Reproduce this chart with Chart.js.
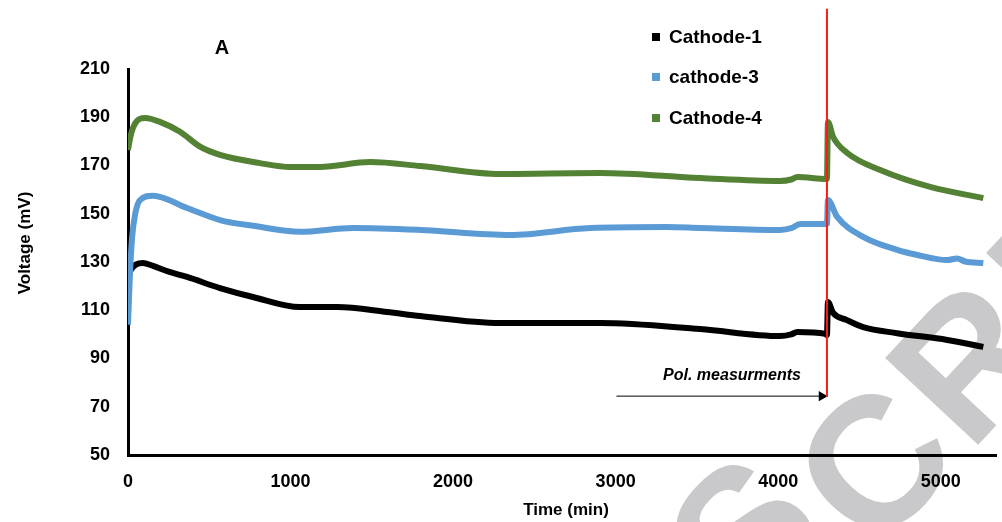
<!DOCTYPE html>
<html>
<head>
<meta charset="utf-8">
<script src="https://cdn.jsdelivr.net/npm/chart.js@4/dist/chart.umd.min.js"></script>
<style>
    body { margin: 0; background: #fff; }
    #wrap { width: 1002px; height: 522px; }
</style>
</head>
<body>
<div id="wrap"><canvas id="chart" width="1002" height="522"></canvas></div>
<script>
// values (time in min, voltage in mV)
const cathode1Time = [0, 20, 50, 92, 150, 250, 363, 566, 769, 1058, 1286, 1594, 1797, 2289, 2905, 3520, 4012, 4080, 4117, 4290, 4300, 4306, 4338, 4420, 4523, 4732, 5040, 5262]
const cathode1Volt = [124, 127, 129, 129.6, 128.5, 126, 123.8, 119.2, 115.5, 111.3, 111.3, 109.3, 107.6, 104.7, 104.7, 102.2, 99.3, 100, 101, 100.2, 99.7, 113.4, 108.9, 106, 103, 100.5, 97.7, 94.8]

const cathode3Time = [0, 5, 12, 25, 43, 74, 154, 363, 566, 769, 1058, 1385, 1797, 2351, 2843, 3317, 3520, 4012, 4080, 4135, 4300, 4306, 4363, 4523, 4732, 4850, 5040, 5100, 5150, 5262]
const cathode3Volt = [104, 113, 125, 140, 149.5, 155.7, 157.5, 152.4, 147.4, 145, 142.5, 144.1, 143.3, 141.2, 144.1, 144.5, 144.1, 143.3, 144, 145.8, 145.8, 155.7, 148.7, 140.4, 135, 133, 130.8, 131.5, 130.2, 129.6]

const cathode4Time = [0, 15, 40, 105, 200, 320, 443, 566, 812, 997, 1182, 1490, 1797, 2289, 2905, 3520, 4012, 4080, 4117, 4300, 4306, 4338, 4425, 4628, 4935, 5262]
const cathode4Volt = [176.4, 182, 187, 189.7, 188, 184, 177.8, 174.4, 171, 169.4, 169.4, 171.4, 169.8, 166.5, 166.9, 164.8, 163.6, 164.2, 165.2, 164.4, 188, 181.8, 175.2, 168.1, 161.1, 156.5]

const seriesNames = ['Cathode-1', 'cathode-3', 'Cathode-4']
const seriesColors = ['#000000', '#5b9bd5', '#548235']

const yTicks = [50, 70, 90, 110, 130, 150, 170, 190, 210]
const xTicks = [0, 1000, 2000, 3000, 4000, 5000]

// polarization marker and arrow
const polTime = [4300, 4300]
const polVolt = [235, 74]
const arrowTime = [3005, 4268]
const arrowVolt = [74.4, 74.4]

const toPoints = (xs, ys) => xs.map((x, i) => ({ x: x, y: ys[i] }))

const FONT = "'Liberation Sans', Arial, sans-serif"

// watermark letters (centre positions on the page)
const markLetters = ['S', 'C', 'R', 'I']
const markX = [742, 872, 967, 1040]
const markY = [530, 462, 360, 285]

const decorPlugin = {
    id: 'decor',
    beforeDraw(chart) {
        const ctx = chart.ctx
        ctx.save()
        ctx.fillStyle = '#ffffff'
        ctx.fillRect(0, 0, chart.width, chart.height)
        const ang = -47 * Math.PI / 180
        ctx.fillStyle = '#c9c9cb'
        ctx.font = 'bold 185px ' + FONT
        ctx.textAlign = 'center'
        ctx.textBaseline = 'alphabetic'
        markLetters.forEach((ch, i) => {
            ctx.save()
            ctx.translate(markX[i], markY[i])
            ctx.rotate(ang)
            ctx.fillText(ch, 0, 66)
            ctx.restore()
        })
        ctx.restore()
    },
    afterDraw(chart) {
        const ctx = chart.ctx
        ctx.save()
        ctx.fillStyle = '#000'
        // panel letter
        ctx.font = 'bold 20px ' + FONT
        ctx.textAlign = 'center'
        ctx.textBaseline = 'middle'
        ctx.fillText('A', 222, 48)
        // axis titles
        ctx.font = 'bold 17px ' + FONT
        ctx.fillText('Time (min)', 566, 510)
        ctx.save()
        ctx.translate(25, 243)
        ctx.rotate(-Math.PI / 2)
        ctx.fillText('Voltage (mV)', 0, 0)
        ctx.restore()
        // annotation text
        ctx.font = 'italic bold 16px ' + FONT
        ctx.fillText('Pol. measurments', 732, 376)
        // legend
        ctx.font = 'bold 19px ' + FONT
        ctx.textAlign = 'left'
        const rows = [37, 77, 118]
        seriesNames.forEach((name, i) => {
            ctx.fillStyle = seriesColors[i]
            ctx.fillRect(652, rows[i] - 4, 8, 8)
            ctx.fillStyle = '#000'
            ctx.fillText(name, 669, rows[i] + 1)
        })
        ctx.restore()
    }
}

const lineDefaults = {
    showLine: true,
    pointRadius: 0,
    borderWidth: 6,
    cubicInterpolationMode: 'monotone',
    borderCapStyle: 'butt'
}

new Chart(document.getElementById('chart'), {
    type: 'scatter',
    data: {
        datasets: [
            {
                label: 'pol',
                data: toPoints(polTime, polVolt),
                showLine: true,
                borderColor: '#ff1a1a',
                borderWidth: 2,
                pointRadius: 0,
                clip: false
            },
            {
                label: 'arrow',
                data: toPoints(arrowTime, arrowVolt),
                showLine: true,
                borderColor: '#000',
                borderWidth: 1,
                pointRadius: [0, 6],
                pointStyle: 'triangle',
                rotation: 90,
                pointBackgroundColor: '#000',
                pointBorderWidth: 0,
                clip: false
            },
            Object.assign({ label: seriesNames[1], data: toPoints(cathode3Time, cathode3Volt), borderColor: seriesColors[1] }, lineDefaults),
            Object.assign({ label: seriesNames[0], data: toPoints(cathode1Time, cathode1Volt), borderColor: seriesColors[0] }, lineDefaults),
            Object.assign({ label: seriesNames[2], data: toPoints(cathode4Time, cathode4Volt), borderColor: seriesColors[2] }, lineDefaults)
        ]
    },
    options: {
        responsive: false,
        animation: false,
        layout: { padding: { top: 69, left: 0, right: 0, bottom: 0 } },
        plugins: {
            legend: { display: false },
            tooltip: { enabled: false }
        },
        scales: {
            x: {
                type: 'linear',
                min: 0,
                max: 5340,
                afterFit: (s) => { s.height = 67 },
                afterBuildTicks: (s) => { s.ticks = xTicks.map(v => ({ value: v })) },
                grid: { display: false, drawTicks: false },
                border: { color: '#000', width: 3 },
                ticks: {
                    padding: 16,
                    color: '#000',
                    callback: (v) => String(v),
                    font: { family: FONT, size: 18, weight: 'bold' }
                }
            },
            y: {
                min: 50,
                max: 210,
                afterFit: (s) => { s.width = 128 },
                afterBuildTicks: (s) => { s.ticks = yTicks.map(v => ({ value: v })) },
                grid: { display: false, drawTicks: false },
                border: { color: '#000', width: 3 },
                ticks: {
                    padding: 18,
                    color: '#000',
                    callback: (v) => String(v),
                    font: { family: FONT, size: 18, weight: 'bold' }
                }
            }
        }
    },
    plugins: [decorPlugin]
})
</script>
</body>
</html>
